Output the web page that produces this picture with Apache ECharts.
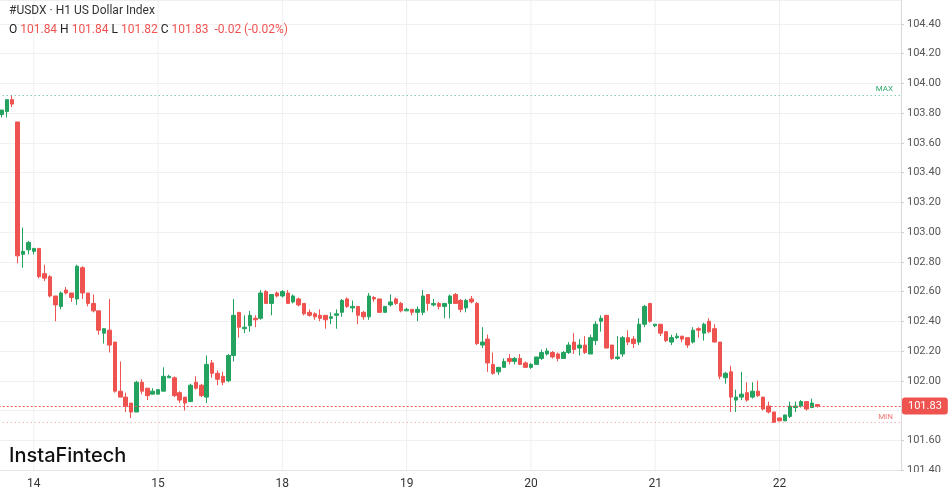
<!DOCTYPE html>
<html>
<head>
<meta charset="utf-8">
<title>#USDX H1</title>
<script src="https://cdn.jsdelivr.net/npm/echarts@6/dist/echarts.min.js"></script>
<style>
  html,body{margin:0;padding:0;background:#fff}
  #chart{width:949px;height:494px}
</style>
</head>
<body>
<div id="chart"></div>
<script>
// trading days on the axis (the 13th is only partly visible)
const days = ['13', '14', '15', '18', '19', '20', '21', '22']
const firstHour = 17
const hoursPerDay = 23

// hourly candles, oldest first
const open = [
  103.79, 103.81, 103.89, 103.74, 102.85, 102.88, 102.87, 102.89, 102.72, 102.70,
  102.57, 102.50, 102.61, 102.59, 102.55, 102.76, 102.59, 102.52, 102.47, 102.32,
  102.34, 102.26, 101.93, 101.89, 101.85, 101.79, 101.99, 101.95, 101.91, 101.91,
  101.93, 102.02, 102.02, 101.92, 101.89, 101.86, 101.99, 101.97, 101.89, 102.12,
  102.05, 102.03, 102.00, 102.17, 102.46, 102.35, 102.37, 102.42, 102.42, 102.60,
  102.52, 102.59, 102.57, 102.59, 102.53, 102.55, 102.52, 102.46, 102.45, 102.44,
  102.44, 102.42, 102.44, 102.46, 102.55, 102.49, 102.50, 102.46, 102.43, 102.56,
  102.55, 102.46, 102.51, 102.55, 102.52, 102.47, 102.48, 102.46, 102.46, 102.58,
  102.51, 102.52, 102.50, 102.52, 102.58, 102.54, 102.49, 102.55, 102.52, 102.24,
  102.28, 102.11, 102.06, 102.09, 102.15, 102.13, 102.15, 102.12, 102.09, 102.11,
  102.15, 102.18, 102.19, 102.18, 102.15, 102.19, 102.26, 102.22, 102.24, 102.18,
  102.27, 102.40, 102.44, 102.24, 102.15, 102.18, 102.29, 102.28, 102.26, 102.38,
  102.52, 102.37, 102.38, 102.33, 102.26, 102.29, 102.30, 102.29, 102.26, 102.35,
  102.32, 102.40, 102.35, 102.26, 102.02, 102.06, 101.87, 101.89, 101.92, 101.89,
  101.93, 101.89, 101.83, 101.79, 101.75, 101.73, 101.76, 101.82, 101.83, 101.86,
  101.82, 101.84
]
const close = [
  103.82, 103.89, 103.86, 102.84, 102.87, 102.93, 102.89, 102.70, 102.69, 102.57,
  102.51, 102.59, 102.59, 102.56, 102.77, 102.59, 102.52, 102.47, 102.34, 102.35,
  102.24, 101.93, 101.89, 101.83, 101.79, 101.99, 101.93, 101.90, 101.93, 101.94,
  102.03, 102.03, 101.90, 101.87, 101.85, 101.97, 101.95, 101.90, 102.11, 102.05,
  102.01, 101.99, 102.17, 102.44, 102.36, 102.36, 102.44, 102.41, 102.59, 102.52,
  102.58, 102.57, 102.60, 102.52, 102.57, 102.51, 102.45, 102.44, 102.43, 102.42,
  102.41, 102.43, 102.45, 102.54, 102.50, 102.50, 102.44, 102.43, 102.57, 102.55,
  102.46, 102.50, 102.53, 102.52, 102.47, 102.48, 102.46, 102.48, 102.57, 102.52,
  102.52, 102.50, 102.52, 102.57, 102.52, 102.48, 102.54, 102.53, 102.25, 102.26,
  102.12, 102.05, 102.09, 102.13, 102.13, 102.15, 102.11, 102.09, 102.11, 102.16,
  102.19, 102.20, 102.16, 102.15, 102.19, 102.24, 102.21, 102.24, 102.19, 102.29,
  102.38, 102.42, 102.22, 102.15, 102.16, 102.29, 102.26, 102.25, 102.38, 102.50,
  102.40, 102.38, 102.32, 102.27, 102.29, 102.30, 102.28, 102.24, 102.34, 102.34,
  102.38, 102.33, 102.26, 102.03, 102.05, 101.89, 101.89, 101.91, 101.87, 101.93,
  101.90, 101.81, 101.79, 101.72, 101.73, 101.77, 101.83, 101.83, 101.86, 101.81,
  101.85, 101.83
]
const low = [
  103.77, 103.77, 103.84, 102.79, 102.76, 102.85, 102.85, 102.69, 102.67, 102.56,
  102.40, 102.48, 102.58, 102.53, 102.51, 102.55, 102.50, 102.46, 102.31, 102.25,
  102.19, 101.92, 101.89, 101.79, 101.75, 101.79, 101.91, 101.87, 101.91, 101.91,
  101.93, 102.02, 101.89, 101.85, 101.80, 101.86, 101.94, 101.89, 101.85, 102.02,
  101.97, 101.97, 101.99, 102.13, 102.29, 102.32, 102.33, 102.36, 102.41, 102.52,
  102.44, 102.56, 102.56, 102.52, 102.52, 102.50, 102.44, 102.43, 102.41, 102.40,
  102.35, 102.38, 102.35, 102.43, 102.49, 102.46, 102.38, 102.41, 102.41, 102.53,
  102.46, 102.46, 102.50, 102.51, 102.46, 102.47, 102.44, 102.40, 102.44, 102.47,
  102.50, 102.48, 102.42, 102.42, 102.52, 102.46, 102.46, 102.52, 102.24, 102.22,
  102.06, 102.04, 102.04, 102.09, 102.11, 102.11, 102.11, 102.09, 102.08, 102.11,
  102.14, 102.17, 102.15, 102.13, 102.15, 102.18, 102.18, 102.17, 102.18, 102.18,
  102.24, 102.33, 102.22, 102.14, 102.14, 102.16, 102.24, 102.22, 102.24, 102.36,
  102.39, 102.36, 102.30, 102.26, 102.24, 102.28, 102.26, 102.22, 102.25, 102.29,
  102.27, 102.32, 102.26, 102.01, 101.98, 101.79, 101.79, 101.87, 101.86, 101.88,
  101.89, 101.80, 101.78, 101.72, 101.73, 101.73, 101.75, 101.79, 101.82, 101.80,
  101.82, 101.82
]
const high = [
  103.82, 103.89, 103.92, 103.74, 103.03, 102.94, 102.89, 102.89, 102.78, 102.71,
  102.57, 102.60, 102.63, 102.59, 102.78, 102.77, 102.59, 102.58, 102.47, 102.35,
  102.55, 102.26, 102.13, 101.92, 101.85, 102.00, 102.01, 101.95, 101.95, 101.94,
  102.09, 102.04, 102.03, 101.93, 101.89, 101.98, 102.03, 101.98, 102.17, 102.14,
  102.07, 102.06, 102.18, 102.55, 102.46, 102.44, 102.47, 102.44, 102.61, 102.61,
  102.58, 102.60, 102.61, 102.61, 102.58, 102.56, 102.52, 102.48, 102.46, 102.48,
  102.44, 102.46, 102.48, 102.55, 102.56, 102.54, 102.50, 102.47, 102.59, 102.57,
  102.55, 102.50, 102.58, 102.56, 102.53, 102.49, 102.48, 102.50, 102.61, 102.58,
  102.55, 102.53, 102.52, 102.58, 102.59, 102.55, 102.55, 102.57, 102.53, 102.36,
  102.31, 102.19, 102.09, 102.15, 102.18, 102.16, 102.18, 102.13, 102.12, 102.16,
  102.21, 102.22, 102.20, 102.19, 102.20, 102.26, 102.32, 102.28, 102.30, 102.31,
  102.40, 102.44, 102.44, 102.24, 102.30, 102.30, 102.34, 102.30, 102.42, 102.51,
  102.52, 102.38, 102.38, 102.33, 102.31, 102.32, 102.30, 102.29, 102.36, 102.36,
  102.39, 102.42, 102.38, 102.26, 102.06, 102.10, 101.94, 102.06, 101.99, 101.99,
  102.00, 101.89, 101.86, 101.79, 101.75, 101.77, 101.86, 101.86, 101.87, 101.86,
  101.88, 101.84
]

// price axis range
const yMin = 101.4
const yMax = 104.56
const yStep = 0.2

const upColor = '#23a35f'
const downColor = '#ef5350'

// one slot per hour, empty future hours on the right
const cats = []
days.forEach((d, k) => {
  for (let h = (k === 0 ? firstHour : 0); h < hoursPerDay; h++) cats.push(d + ' ' + h + ':00')
})
const isDayStart = v => v.endsWith(' 0:00')

const candles = open.map((o, i) => [o, close[i], low[i], high[i]])
const dayLines = cats.map(v => isDayStart(v) ? yMax : '-')

const n = close.length
const last = close[n - 1]
const chg = last - close[n - 2]
const pct = chg / close[n - 2] * 100
const maxHigh = Math.max(...high)
const minLow = Math.min(...low)

const fmt = v => v.toFixed(2)

const chart = echarts.init(document.getElementById('chart'))

chart.setOption({
  animation: false,
  textStyle: { fontFamily: 'Roboto, Arial, sans-serif' },
  title: [
    {
      text: '#USDX · H1 US Dollar Index',
      left: 9, top: 5, padding: 0,
      textStyle: { fontSize: 12, fontWeight: 'normal', color: '#333' }
    },
    {
      text: `{k|O} {v|${fmt(open[n - 1])}} {k|H} {v|${fmt(high[n - 1])}} {k|L} {v|${fmt(low[n - 1])}} {k|C} {v|${fmt(last)}}  {v|${fmt(chg)} (${fmt(pct)}%)}`,
      left: 9, top: 24, padding: 0,
      textStyle: {
        fontSize: 12, fontWeight: 'normal',
        rich: {
          k: { fontSize: 12, color: '#222' },
          v: { fontSize: 12, color: downColor }
        }
      }
    }
  ],
  grid: { left: -1.3, right: 48, top: 0, bottom: 24, containLabel: false, outerBoundsMode: 'none' },
  xAxis: {
    type: 'category',
    data: cats,
    boundaryGap: true,
    axisLine: { show: true, lineStyle: { color: '#e3e3e3' } },
    axisTick: { show: false },
    axisLabel: {
      interval: (i, v) => isDayStart(v),
      formatter: v => v.split(' ')[0],
      color: '#333', fontSize: 12, margin: 8
    },
    splitLine: { show: false }
  },
  yAxis: {
    type: 'value',
    position: 'right',
    min: yMin, max: yMax, interval: yStep,
    scale: true,
    axisLine: { show: true, lineStyle: { color: '#d9d9d9' } },
    axisTick: { show: true, length: 3, lineStyle: { color: '#d0d0d0' } },
    axisLabel: { formatter: fmt, color: '#555', fontSize: 11, margin: 6, showMaxLabel: false },
    splitLine: { show: true, lineStyle: { color: '#f0f0f0' } }
  },
  series: [
    {
      // vertical day separators
      type: 'bar',
      data: dayLines,
      barWidth: 1,
      silent: true,
      z: 1,
      itemStyle: { color: '#efefef' }
    },
    {
      type: 'candlestick',
      data: candles,
      barWidth: 4,
      z: 3,
      itemStyle: {
        color: upColor, color0: downColor,
        borderColor: upColor, borderColor0: downColor,
        borderWidth: 1
      },
      markLine: {
        symbol: 'none',
        silent: true,
        animation: false,
        data: [
          {
            yAxis: maxHigh,
            lineStyle: { color: '#49b985', type: [1, 3], width: 1 },
            label: { formatter: 'MAX', position: 'insideEndTop', color: '#2ea56a', fontSize: 8, distance: [8, 2] }
          },
          {
            yAxis: minLow,
            lineStyle: { color: '#f39a98', type: [1, 3], width: 1 },
            label: { formatter: 'MIN', position: 'insideEndTop', color: '#f07a78', fontSize: 8, distance: [8, 1] }
          },
          {
            yAxis: last,
            lineStyle: { color: downColor, type: [2, 2], width: 1 },
            label: {
              formatter: fmt(last), position: 'end', distance: 1,
              backgroundColor: downColor, color: '#fff', fontSize: 11,
              padding: [3, 6], borderRadius: 3
            }
          }
        ]
      }
    }
  ],
  graphic: [
    {
      type: 'text', left: 9, top: 446, z: 50,
      style: { text: 'InstaFintech', font: '500 20px Inter, "Open Sans", sans-serif', fill: '#111' }
    },
    {
      // hide the lower half of the clipped bottom price label
      type: 'rect', right: 0, top: 472, z: 100,
      shape: { width: 47, height: 22 },
      style: { fill: '#fff' }
    }
  ]
})
</script>
</body>
</html>
